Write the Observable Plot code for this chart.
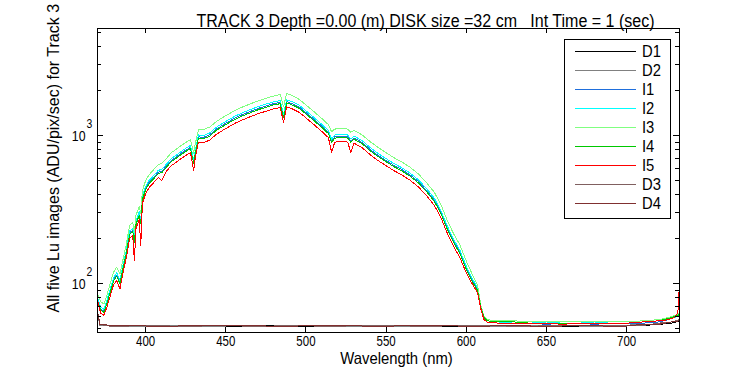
<!DOCTYPE html>
<html>
<head>
<meta charset="utf-8">
<script src="https://cdn.jsdelivr.net/npm/d3@7"></script>
<script src="https://cdn.jsdelivr.net/npm/@observablehq/plot@0.6"></script>
<style>
  html, body { margin: 0; padding: 0; background: white; }
</style>
</head>
<body>
<div id="chart"></div>
<script>
// ---------------- data ----------------
const wavelength = [370,372,374,376,378,380,382,384,386,388,390,392,393,394,396,397,398,400,402,405,408,410,413,416,419,422,425,428,430,431,433,436,440,444,448,452,456,460,465,470,475,480,484,486,488,492,496,500,505,510,514,516,518,522,526,528,530,535,540,545,550,555,560,565,570,575,580,584,588,592,596,600,604,607,609,611,613,620,630,640,650,660,670,680,690,700,710,720,726,730,732,733];

const I1 = [78,67,65,75,90,106,114,102,131,163,219,230,194,255,296,260,377,439,479,520,566,571,622,678,714,755,796,831,663,775,979,969,1010,1102,1173,1244,1316,1377,1448,1520,1581,1642,1673,1346,1693,1632,1550,1428,1285,1153,1051,918,979,989,979,918,964,898,806,734,678,627,587,541,490,428,367,306,240,194,163,128,104,92,71,59,55,54,54,54,53,54,54,53,54,54,54,55,57,59,60,61];
const I2 = [80,69,67,78,92,109,118,105,134,168,226,236,200,262,305,268,388,452,494,536,583,588,640,698,735,777,819,856,683,798,1008,998,1040,1134,1208,1281,1355,1418,1491,1565,1628,1690,1722,1390,1743,1680,1596,1470,1323,1187,1082,945,1008,1019,1008,945,992,924,830,756,698,646,604,557,504,441,378,315,247,200,168,131,107,94,72,59,56,55,54,54,55,54,54,55,54,54,55,56,57,59,61,62];
const I3 = [86,75,73,84,101,119,129,116,147,184,247,259,222,288,333,296,425,495,540,587,638,645,700,765,805,851,897,937,760,880,1100,1095,1140,1240,1320,1400,1480,1550,1630,1710,1780,1850,1890,1560,1920,1850,1750,1610,1450,1300,1185,1060,1105,1115,1105,1050,1085,1010,910,830,765,707,660,610,552,483,415,345,270,218,183,142,114,98,72,60,57,56,56,55,55,55,55,55,55,55,56,57,59,61,62,63];
const I4 = [76,66,64,74,88,104,112,100,128,160,215,225,190,250,290,255,370,430,470,510,555,560,610,665,700,740,780,815,650,760,960,950,990,1080,1150,1220,1290,1350,1420,1490,1550,1610,1640,1320,1660,1600,1520,1400,1260,1130,1030,900,960,970,960,900,945,880,790,720,665,615,575,530,480,420,360,300,235,190,160,125,102,90,70,59,56,55,55,54,54,54,54,54,54,54,55,56,58,60,61,62];
const I5 = [77,63,61,70,83,98,105,92,120,150,202,210,143,235,272,181,348,404,442,480,522,496,573,625,658,696,733,766,580,714,902,893,931,1015,1081,1147,1213,1269,1335,1401,1457,1513,1542,1230,1560,1504,1429,1316,1184,1062,968,773,902,912,902,772,888,827,743,677,625,578,540,498,451,395,338,282,221,179,150,118,98,87,68,57,55,54,54,54,54,53,54,54,54,54,55,56,57,59,64,100];

const darkWavelength = [370,371.5,380,395,410,425,440,455,470,485,500,515,530,545,560,575,590,605,620,635,650,665,680,695,710,720,728,733];
const D1 = [64,53,52,52,51,52,52,51,52,52,51,52,52,51,52,52,51,52,52,51,52,51,52,52,52,53,54,56];
const D2 = [62,52,52,51,52,52,51,52,52,51,52,52,51,52,51,52,52,52,51,52,52,52,51,52,53,53,55,57];
const D3 = [63,53,51,52,52,51,52,52,51,52,52,51,52,52,52,51,52,52,52,51,52,52,52,52,52,54,55,57];
const D4 = [65,53,52,52,51,52,52,52,52,51,52,52,52,51,52,52,52,51,52,52,51,52,52,51,53,53,55,56];

const seriesNames = ["D1","D2","I1","I2","I3","I4","I5","D3","D4"];
const seriesColors = ["#000000","#808080","#1f6fdc","#00ffff","#80ff80","#00c800","#ff0000","#806060","#803030"];

const xTicks = [400,450,500,550,600,650,700];
const yMajorTicks = [100,1000];
const yMinorTicks = [50,60,70,80,90,200,300,400,500,600,700,800,900,2000,3000,4000,5000];

const titleText = "TRACK 3 Depth =0.00 (m) DISK size =32 cm   Int Time = 1 (sec)";
const xLabelText = "Wavelength (nm)";
const yLabelText = "All five Lu images (ADU/pix/sec) for Track 3";

// ---------------- build ----------------
const seriesSource = {
  D1: [darkWavelength, D1], D2: [darkWavelength, D2],
  I1: [wavelength, I1], I2: [wavelength, I2], I3: [wavelength, I3], I4: [wavelength, I4], I5: [wavelength, I5],
  D3: [darkWavelength, D3], D4: [darkWavelength, D4]
};
const rows = [];
for (const name of seriesNames) {
  const [ws, vs] = seriesSource[name];
  ws.forEach((w, i) => rows.push({series: name, w, v: vs[i]}));
}

const FONT = '"Liberation Sans", Arial, Helvetica, sans-serif';
const W = 750, H = 375, ML = 97, MR = 71, MT = 28, MB = 43;
const innerW = W - ML - MR, innerH = H - MT - MB;

const chart = Plot.plot({
  width: W, height: H,
  marginLeft: ML, marginRight: MR, marginTop: MT, marginBottom: MB,
  style: {fontFamily: FONT, background: "white", color: "black", overflow: "visible"},
  x: {domain: [370, 733], axis: null},
  y: {type: "log", domain: [46.7, 5280], axis: null},
  color: {domain: seriesNames, range: seriesColors},
  marks: [
    Plot.line(rows, {x: "w", y: "v", z: "series", stroke: "series", strokeWidth: 1, shapeRendering: "crispEdges"}),
    Plot.tickX(xTicks, {x: d => d, insetTop: innerH - 5, shapeRendering: "crispEdges"}),
    Plot.tickX(xTicks, {x: d => d, insetBottom: innerH - 5, shapeRendering: "crispEdges"}),
    Plot.tickY(yMajorTicks, {y: d => d, insetRight: innerW - 6, shapeRendering: "crispEdges"}),
    Plot.tickY(yMajorTicks, {y: d => d, insetLeft: innerW - 6, shapeRendering: "crispEdges"}),
    Plot.tickY(yMinorTicks, {y: d => d, insetRight: innerW - 4, shapeRendering: "crispEdges"}),
    Plot.tickY(yMinorTicks, {y: d => d, insetLeft: innerW - 4, shapeRendering: "crispEdges"}),
    Plot.frame({stroke: "black", shapeRendering: "crispEdges"}),
    Plot.text(xTicks, {x: d => d, frameAnchor: "bottom", dy: 13.5, text: d => String(d), fontSize: 14, ariaDescription: "xtick"}),
    Plot.text(yMajorTicks, {y: d => d, frameAnchor: "left", dx: -12, dy: 1, textAnchor: "end", text: () => "10", fontSize: 14, ariaDescription: "ytick"}),
    Plot.text(yMajorTicks, {y: d => d, frameAnchor: "left", dx: -11, dy: -12, textAnchor: "start", text: d => String(Math.round(Math.log10(d))), fontSize: 13, ariaDescription: "yexp"}),
    Plot.text([xLabelText], {frameAnchor: "bottom", dx: 8, dy: 31.5, text: d => d, fontSize: 16.5, ariaDescription: "xlabel"}),
    Plot.text([titleText], {frameAnchor: "top", dx: 37, dy: -14.5, text: d => d, fontSize: 18, ariaDescription: "title"}),
    Plot.text([yLabelText], {frameAnchor: "left", dx: -44, dy: 132, rotate: -90, textAnchor: "start", text: d => d, fontSize: 16, ariaDescription: "ylabel"})
  ]
});

document.getElementById("chart").appendChild(chart);

const svg = d3.select(chart);
svg.selectAll("text").attr("xml:space", "preserve");

// legend (inside plot area, top-right)
const lg = svg.append("g").attr("font-family", FONT).attr("font-size", 17)
  .attr("text-anchor", "start").attr("aria-description", "legend");
lg.append("rect")
  .attr("x", 564.5).attr("y", 39.5).attr("width", 106).attr("height", 179)
  .attr("fill", "white").attr("stroke", "black").attr("shape-rendering", "crispEdges");
seriesNames.forEach((name, i) => {
  const cy = 51 + 19 * i;
  lg.append("line")
    .attr("x1", 575).attr("x2", 636).attr("y1", cy + 0.5).attr("y2", cy + 0.5)
    .attr("stroke", seriesColors[i]).attr("stroke-width", 1).attr("shape-rendering", "crispEdges");
  lg.append("text")
    .attr("x", 642).attr("y", cy).attr("dy", "0.36em")
    .attr("fill", "black").text(name);
});

// emulate the narrow face of the original rendering
function condense(selector, f) {
  svg.selectAll(selector).each(function () {
    const L = this.getComputedTextLength();
    this.setAttribute("textLength", (L * f).toFixed(2));
    this.setAttribute("lengthAdjust", "spacingAndGlyphs");
  });
}
condense('g[aria-description="title"] text', 0.89);
condense('g[aria-description="xlabel"] text', 0.9);
condense('g[aria-description="xtick"] text', 0.82);
condense('g[aria-description="ytick"] text', 0.88);
condense('g[aria-description="yexp"] text', 0.8);
condense('g[aria-description="legend"] text', 0.87);
</script>
</body>
</html>
